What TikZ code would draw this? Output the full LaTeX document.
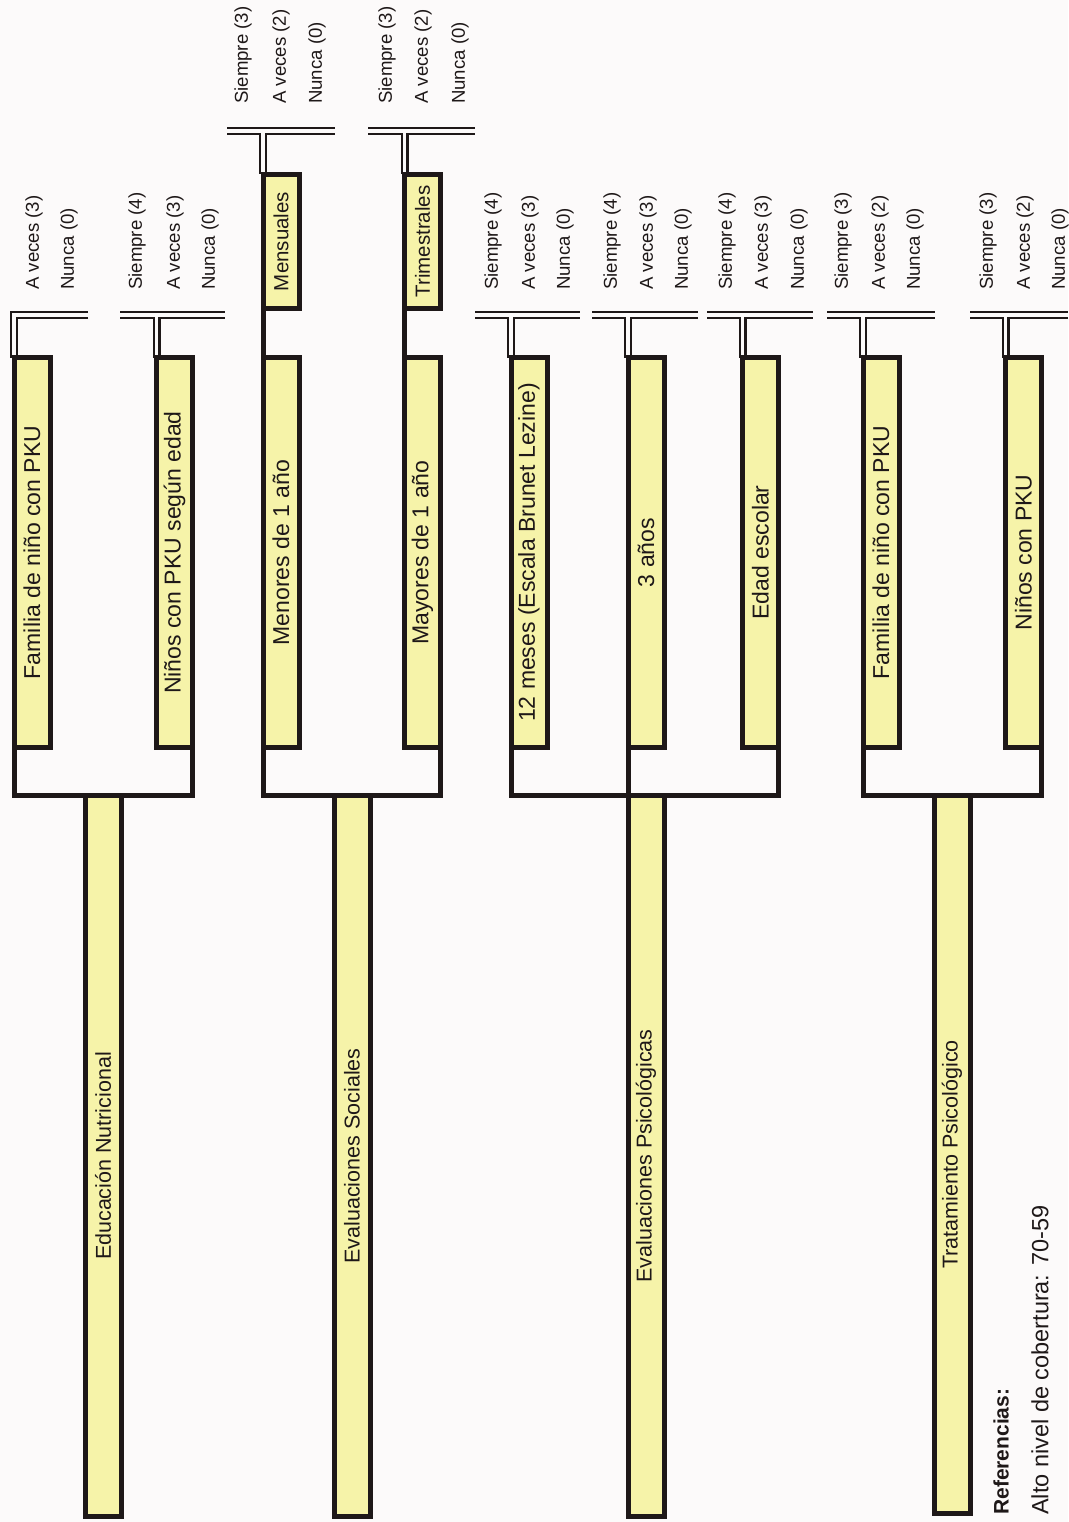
\documentclass[tikz,border=0pt]{standalone}
\usepackage{fontspec}
\setmainfont{Liberation Sans}
\usepackage{graphicx}
\definecolor{ink}{HTML}{1E1818}
\definecolor{barfill}{HTML}{F6F3A9}
\definecolor{paper}{HTML}{FCFAFA}
\pgfdeclarelayer{bg}
\pgfdeclarelayer{conn}
\pgfsetlayers{bg,conn,main}
\tikzset{
  barbox/.style={draw=ink, line width=5pt, fill=barfill, inner sep=0pt, outer sep=0pt, minimum width=36pt, text=ink},
  subtxt/.style={font=\fontsize{23}{27}\selectfont},
  smalltxt/.style={font=\fontsize{20.5}{24}\selectfont},
  roottxt/.style={font=\fontsize{21.5}{25}\selectfont},
  dbl/.style={draw=ink, line width=2.2pt, double=paper, double distance=3.6pt, line join=miter},
  brk/.style={draw=ink, line width=5pt, line join=miter},
  lab/.style={font=\fontsize{18.6}{21}\selectfont, inner sep=0pt, anchor=west, rotate=90, text=ink},
  reftxt/.style={inner sep=0pt, anchor=west, rotate=90, text=ink},
}
\begin{document}
\begin{tikzpicture}[x=1pt,y=-1pt]
\useasboundingbox (0,0) rectangle (1068,1522);
\begin{pgfonlayer}{bg}
\fill[paper] (0,0) rectangle (1068,1522);
\end{pgfonlayer}

% ---------- Group 1: Educacion Nutricional
\node[barbox, subtxt, minimum height=390pt] (a1) at (32,552.5) {\rotatebox{90}{Familia de niño con PKU}};
\node[barbox, subtxt, minimum height=390pt] (b1) at (174.5,552.5) {\rotatebox{90}{Niños con PKU según edad}};
\node[barbox, roottxt, minimum height=721pt] (n1) at (103,1156) {\rotatebox{90}{Educación Nutricional}};
\draw[brk] (a1.south west) -- (a1.south west |- n1.north) -- (b1.south east |- n1.north) -- (b1.south east);

% ---------- Group 2: Evaluaciones Sociales
\node[barbox, smalltxt, minimum height=134pt] (men) at (281,241.5) {\rotatebox{90}{Mensuales}};
\node[barbox, smalltxt, minimum height=134pt] (tri) at (422.5,241.5) {\rotatebox{90}{Trimestrales}};
\node[barbox, subtxt, minimum height=390pt] (a2) at (281,552.5) {\rotatebox{90}{Menores de 1 año}};
\node[barbox, subtxt, minimum height=390pt] (b2) at (422.5,552.5) {\rotatebox{90}{Mayores de 1 año}};
\node[barbox, roottxt, minimum height=721pt] (n2) at (352,1156) {\rotatebox{90}{Evaluaciones Sociales}};
\draw[brk] (men.south west) -- (a2.north west);
\draw[brk] (tri.south west) -- (b2.north west);
\draw[brk] (a2.south west) -- (a2.south west |- n2.north) -- (b2.south east |- n2.north) -- (b2.south east);

% ---------- Group 3: Evaluaciones Psicologicas
\node[barbox, subtxt, minimum height=390pt] (a3) at (529,552.5) {\rotatebox{90}{12 meses (Escala Brunet Lezine)}};
\node[barbox, subtxt, minimum height=390pt] (b3) at (646,552.5) {\rotatebox{90}{3 años}};
\node[barbox, subtxt, minimum height=390pt] (c3) at (760.5,552.5) {\rotatebox{90}{Edad escolar}};
\node[barbox, roottxt, minimum height=721pt] (n3) at (646,1156) {\rotatebox{90}{Evaluaciones Psicológicas}};
\draw[brk] (a3.south west) -- (a3.south west |- n3.north) -- (c3.south east |- n3.north) -- (c3.south east);
\draw[brk] (b3.south west) -- (n3.north west);

% ---------- Group 4: Tratamiento Psicologico
\node[barbox, subtxt, minimum height=390pt] (a4) at (881,552.5) {\rotatebox{90}{Familia de niño con PKU}};
\node[barbox, subtxt, minimum height=390pt] (b4) at (1023.5,552.5) {\rotatebox{90}{Niños con PKU}};
\node[barbox, roottxt, minimum height=718pt] (n4) at (952,1154.5) {\rotatebox{90}{Tratamiento Psicológico}};
\draw[brk] (a4.south west) -- (a4.south west |- n4.north) -- (b4.south east |- n4.north) -- (b4.south east);

% ---------- double-line connectors
\begin{pgfonlayer}{conn}
\coordinate (h1a) at (88,315);
\draw[dbl] (h1a) -- (a1.north west |- h1a) -- (a1.north west);
\coordinate (h1b) at (120,315); \coordinate (h1c) at (225,315);
\draw[dbl] (h1b) -- (h1c) (b1.north west |- h1b) -- (b1.north west);

\coordinate (h2a) at (227,131); \coordinate (h2b) at (335,131);
\draw[dbl] (h2a) -- (h2b) (men.north west |- h2a) -- (men.north west);
\coordinate (h2c) at (368,131); \coordinate (h2d) at (475,131);
\draw[dbl] (h2c) -- (h2d) (tri.north west |- h2c) -- (tri.north west);

\coordinate (h3a) at (475,315); \coordinate (h3b) at (580,315);
\draw[dbl] (h3a) -- (h3b) (a3.north west |- h3a) -- (a3.north west);
\coordinate (h3c) at (592,315); \coordinate (h3d) at (698,315);
\draw[dbl] (h3c) -- (h3d) (b3.north west |- h3c) -- (b3.north west);
\coordinate (h3e) at (707,315); \coordinate (h3f) at (813,315);
\draw[dbl] (h3e) -- (h3f) (c3.north west |- h3e) -- (c3.north west);

\coordinate (h4a) at (827,315); \coordinate (h4b) at (935,315);
\draw[dbl] (h4a) -- (h4b) (a4.north west |- h4a) -- (a4.north west);
\coordinate (h4c) at (970,315); \coordinate (h4d) at (1068,315);
\draw[dbl] (h4c) -- (h4d) (b4.north west |- h4c) -- (b4.north west);
\end{pgfonlayer}

% ---------- scale labels
\node[lab] (l1a) at (34,290) {A veces (3)};
\node[lab] (l1b) at (69,290) {Nunca (0)};
\node[lab] (l1c) at (137,290) {Siempre (4)};
\node[lab] (l1d) at (175,290) {A veces (3)};
\node[lab] (l1e) at (210,290) {Nunca (0)};

\node[lab] (l2a) at (243,104) {Siempre (3)};
\node[lab] (l2b) at (281,104) {A veces (2)};
\node[lab] (l2c) at (317,104) {Nunca (0)};
\node[lab] (l2d) at (387,104) {Siempre (3)};
\node[lab] (l2e) at (423,104) {A veces (2)};
\node[lab] (l2f) at (460,104) {Nunca (0)};

\node[lab] (l3a) at (493,290) {Siempre (4)};
\node[lab] (l3b) at (530,290) {A veces (3)};
\node[lab] (l3c) at (565,290) {Nunca (0)};
\node[lab] (l3d) at (612,290) {Siempre (4)};
\node[lab] (l3e) at (648,290) {A veces (3)};
\node[lab] (l3f) at (683,290) {Nunca (0)};
\node[lab] (l3g) at (727,290) {Siempre (4)};
\node[lab] (l3h) at (763,290) {A veces (3)};
\node[lab] (l3i) at (799,290) {Nunca (0)};

\node[lab] (l4a) at (843,290) {Siempre (3)};
\node[lab] (l4b) at (880,290) {A veces (2)};
\node[lab] (l4c) at (915,290) {Nunca (0)};
\node[lab] (l4d) at (988,290) {Siempre (3)};
\node[lab] (l4e) at (1025,290) {A veces (2)};
\node[lab] (l4f) at (1060,290) {Nunca (0)};

% ---------- references
\node[reftxt, font=\bfseries\fontsize{21}{25}\selectfont] (ref) at (1001,1515) {Referencias:};
\node[reftxt, font=\fontsize{23.5}{27}\selectfont] (alto) at (1040,1515) {Alto nivel de cobertura: 70-59};
\end{tikzpicture}
\end{document}
